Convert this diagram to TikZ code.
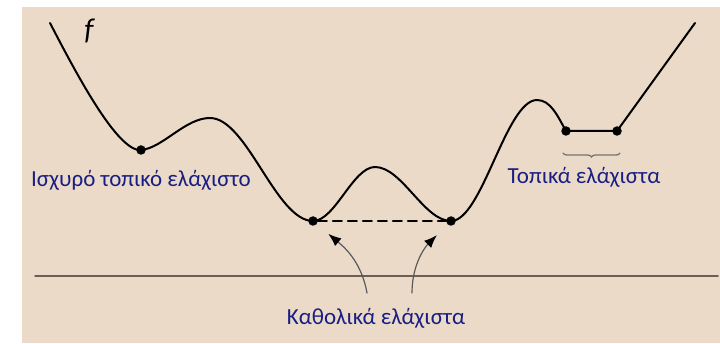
\documentclass[tikz,border=0pt]{standalone}
\usepackage{fontspec}
\setmainfont{Carlito}
\usetikzlibrary{arrows.meta,decorations.pathreplacing}
\definecolor{bgbeige}{RGB}{236,218,201}
\definecolor{lblblue}{RGB}{25,30,130}
\definecolor{axisgray}{RGB}{105,95,88}
\newcommand{\ArrTip}{Latex[length=13,width=10,color=black]}
\tikzset{dot/.style={circle,fill=black,inner sep=0pt,minimum size=9.5pt}}
\tikzset{lbl/.style={text=lblblue,font=\fontsize{23}{27}\selectfont}}
\tikzset{pointer/.style={draw=black!65,line width=1.2pt,-{\ArrTip},shorten >=15pt}}
\begin{document}
\begin{tikzpicture}[x=1pt,y=1pt,line cap=round]
\fill[bgbeige](22,0)rectangle(720,336);
\useasboundingbox(0,0)rectangle(720,343);
\node(m1)[dot]at(141,193){};\node(m2)[dot]at(313,122){};\node(m3)[dot]at(451,122){};
\node(p1)[dot]at(566,212){};\node(p2)[dot]at(617,212){};
\coordinate(s)at(50,320);\coordinate(e)at(695,320);
\coordinate(t1)at(210,225);\coordinate(t2)at(375,176);\coordinate(t3)at(537,243);
\draw[line width=2pt](s)..controls(78,266)and(118,191)..(m1.center)..controls+(22,2)and+(-25,0)..(t1)
  ..controls+(37,0)and+(-37,0)..(m2.center)..controls+(22,0)and+(-22,0)..(t2)
  ..controls+(27,0)and+(-27,0)..(m3.center)..controls+(31,0)and+(-31,0)..(t3)
  ..controls+(14,0)and+(-8,14)..(p1.center)--(p2.center)--(e);
\draw[line width=2pt,dash pattern=on 9pt off 6pt](m2)--(m3);
\coordinate(al)at(35,67);\coordinate(ar)at(718,67);\draw[axisgray,line width=1.5pt](al)--(ar);
\coordinate(a1)at(367,50);\coordinate(a2)at(412,50);
\draw[pointer](a1)to[out=100,in=-40](m2);\draw[pointer](a2)to[out=90,in=-135](m3);
\coordinate(b1)at(563,190);\coordinate(b2)at(620,190);
\draw[black!55,line width=1.3pt,decorate,decoration={brace,amplitude=4pt}](b2)--(b1);
\node(f)[font=\fontsize{30}{32}\selectfont\itshape]at(89,312){f};
\begin{scope}[lbl]
\node(strong)at(141,163){Ισχυρό τοπικό ελάχιστο};
\node(local)at(584,166){Τοπικά ελάχιστα};
\node(global)at(376,25){Καθολικά ελάχιστα};
\end{scope}
\end{tikzpicture}
\end{document}
